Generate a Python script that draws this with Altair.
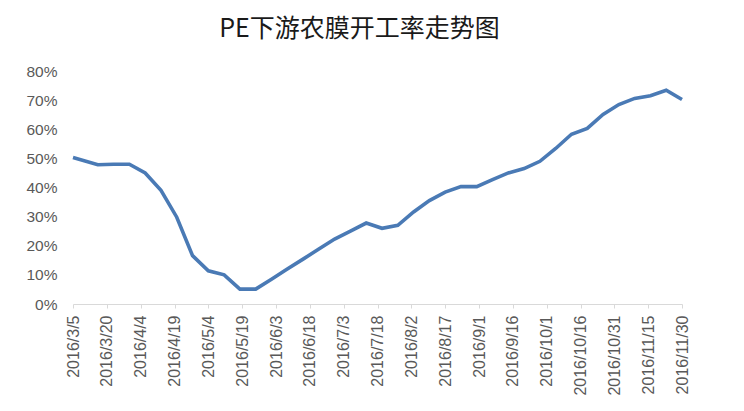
import altair as alt
import pandas as pd

dates = ["2016-03-05", "2016-03-16", "2016-03-23", "2016-03-30", "2016-04-06", "2016-04-13",
         "2016-04-20", "2016-04-27", "2016-05-04", "2016-05-11", "2016-05-18", "2016-05-25",
         "2016-06-01", "2016-06-08", "2016-06-15", "2016-06-22", "2016-06-29", "2016-07-06",
         "2016-07-13", "2016-07-20", "2016-07-27", "2016-08-03", "2016-08-10", "2016-08-17",
         "2016-08-24", "2016-08-31", "2016-09-07", "2016-09-14", "2016-09-21", "2016-09-28",
         "2016-10-05", "2016-10-12", "2016-10-19", "2016-10-26", "2016-11-02", "2016-11-09",
         "2016-11-16", "2016-11-23", "2016-11-30"]
rates = [50.3, 47.8, 48.0, 48.0, 45.0, 39.0,
         29.8, 16.6, 11.4, 10.0, 5.1, 5.1,
         8.5, 12.0, 15.4, 18.9, 22.3, 25.0,
         27.8, 26.0, 27.0, 31.6, 35.5, 38.4,
         40.3, 40.3, 42.7, 45.0, 46.5, 49.0,
         53.4, 58.3, 60.3, 65.1, 68.5, 70.6,
         71.5, 73.4, 70.2]
y_ticks = [0, 0.1, 0.2, 0.3, 0.4, 0.5, 0.6, 0.7, 0.8]
x_tick_days = list(range(0, 271, 15))

start = pd.Timestamp("2016-03-05")
df = pd.DataFrame({"date": dates, "rate": [r / 100 for r in rates]})
df["day"] = (pd.to_datetime(df["date"]) - start).dt.days

font = "Liberation Sans"
chart = alt.Chart(df).mark_line(color="#4A7AB5", strokeWidth=3.6).encode(
    x=alt.X("day:Q", title=None,
            scale=alt.Scale(domain=[0, 270], nice=False, zero=False),
            axis=alt.Axis(values=x_tick_days, labelAngle=-90, grid=False,
                          labelExpr="timeFormat(datetime(2016, 2, 5 + datum.value), '%Y/%-m/%-d')",
                          domainColor="#d9d9d9", tickColor="#d9d9d9", tickSize=4,
                          labelPadding=7, labelFont=font, labelFontSize=16,
                          labelColor="#595959", labelOverlap=False)),
    y=alt.Y("rate:Q", title=None,
            scale=alt.Scale(domain=[0, 0.8], nice=False),
            axis=alt.Axis(values=y_ticks, format=".0%", grid=False, domain=False,
                          ticks=False, tickSize=0, labelPadding=16, labelFont=font,
                          labelFontSize=15.5, labelColor="#595959"))
).properties(
    width=609, height=233,
    title=alt.TitleParams("PE下游农膜开工率走势图", font="Noto Sans CJK SC",
                          fontSize=25, fontWeight="normal", color="#1a1a1a",
                          anchor="middle", baseline="bottom", offset=-3, dx=-18),
    autosize=alt.AutoSizeParams(type="none"),
    padding={"left": 65, "top": 63, "right": 54, "bottom": 92}
).configure_view(stroke=None)

chart.save("out.html", embed_options={"renderer": "svg", "actions": False})
